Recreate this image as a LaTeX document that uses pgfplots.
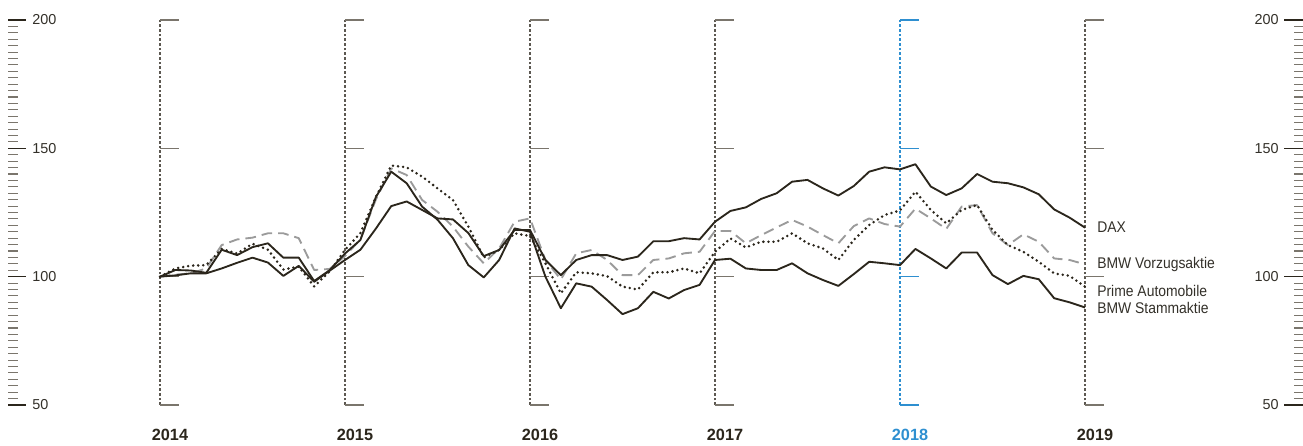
\documentclass[border=0pt]{standalone}
\usepackage{pgfplots}
\pgfplotsset{compat=1.18}
\usepackage{pgfplotstable}
\usepackage{fontspec}
\setmainfont{Liberation Sans}
\newfontfamily\condfont{Liberation Sans}[FakeStretch=0.9]
\definecolor{ink}{HTML}{2B261C}
\definecolor{vz}{HTML}{9B9B9B}
\definecolor{tk}{HTML}{7A756C}
\definecolor{yl}{HTML}{5C5851}
\definecolor{blu}{HTML}{2E8FD0}
\definecolor{txt}{HTML}{333029}

\pgfplotstableread{
m dax st pa vz
0 100 100 100 100
1 100.5 102.6 103.2 100.8
2 101.3 102.4 104.3 101.3
3 101.3 101.5 104.5 103.2
4 103.2 110.5 110.8 112.3
5 105.4 108.4 109.0 114.5
6 107.4 111.5 112.8 115.2
7 105.5 113.0 110.5 116.9
8 100.3 107.4 102.8 116.9
9 104.2 107.4 103.9 115.0
10 98.0 98.3 96.2 102.6
11 102.3 102.5 102.0 103.0
12 106.5 109.0 110.4 108.0
13 110.5 114.3 117.0 114.5
14 118.7 131.0 131.0 130.0
15 127.5 140.9 143.3 142.2
16 129.3 136.4 142.6 139.6
17 126.0 127.3 139.0 129.9
18 122.7 122.2 134.4 125.3
19 122.3 115.0 129.9 119.5
20 117.0 104.5 119.5 111.7
21 108.0 99.7 107.5 105.2
22 110.4 106.5 110.4 111.0
23 118.2 118.8 116.9 121.4
24 118.2 117.5 115.8 122.7
25 106.5 100.0 105.2 106.5
26 100.6 87.7 93.5 98.9
27 106.5 97.4 101.7 109.1
28 108.4 96.1 101.3 110.4
29 108.4 90.9 100.2 106.5
30 106.5 85.4 96.1 100.6
31 107.8 87.7 95.0 100.6
32 113.8 94.1 101.7 106.5
33 113.8 91.5 101.7 107.1
34 115.0 94.8 103.2 109.1
35 114.5 96.8 101.3 109.7
36 121.4 106.5 109.7 117.8
37 125.6 107.0 114.9 117.8
38 127.0 103.2 111.4 113.0
39 130.3 102.6 113.6 116.2
40 132.5 102.6 113.6 119.2
41 137.0 105.2 116.9 122.1
42 137.7 101.3 113.0 119.5
43 134.4 98.7 111.0 116.2
44 131.6 96.4 106.5 113.0
45 135.3 101.0 114.3 119.7
46 140.9 105.8 120.1 122.7
47 142.6 105.2 124.0 120.5
48 141.8 104.5 125.8 119.5
49 143.8 110.8 133.1 126.5
50 135.1 107.1 126.0 122.7
51 131.8 103.2 120.8 118.6
52 134.4 109.4 126.0 127.3
53 140.0 109.4 127.9 127.9
54 137.0 100.6 118.2 116.9
55 136.4 97.1 112.3 112.3
56 134.8 100.3 109.7 116.5
57 132.1 99.0 105.8 113.6
58 126.2 91.6 101.3 107.1
59 123.0 90.0 100.3 106.5
60 119.1 88.0 96.1 104.8
}\data

\begin{document}
\begin{tikzpicture}[x=0.75pt,y=0.75pt]
\path[use as bounding box] (0,0) rectangle (1303,446);
% year grid lines with ticks
\foreach \k in {0,1,2,3,5}{
  \pgfmathsetmacro\xx{160+185*\k}
  \draw[yl, line width=0.8pt, dash pattern=on 2pt off 1.5pt] (\xx,41) -- (\xx,426);
  \foreach \yy in {41,169.33,297.67,426}{
    \draw[tk, line width=0.8pt] (\xx,\yy) -- ++(19,0);
  }
}
\pgfmathsetmacro\xx{160+185*4}
\draw[blu, line width=0.8pt, dash pattern=on 2pt off 1.5pt] (\xx,41) -- (\xx,426);
\foreach \yy in {41,169.33,297.67,426}{
  \draw[blu, line width=0.8pt] (\xx,\yy) -- ++(19,0);
}
% year labels
\foreach \k/\yr in {0/2014,1/2015,2/2016,3/2017,5/2019}{
  \node[font=\fontsize{12.2}{14}\selectfont\bfseries, text=ink, inner sep=0] at (170+185*\k,10.8) {\yr};
}
\node[font=\fontsize{12.2}{14}\selectfont\bfseries, text=blu, inner sep=0] at (170+185*4,10.8) {2018};
% side scales
\foreach \i in {0,...,60}{
  \pgfmathsetmacro\yy{41+\i*6.416667}
  \draw[tk, line width=0.8pt] (8,\yy) -- (18,\yy);
  \draw[tk, line width=0.8pt] (1294,\yy) -- (1303,\yy);
}
\foreach \v/\yy in {50/41,100/169.33,150/297.67,200/426}{
  \draw[ink, line width=0.8pt] (8,\yy) -- (26,\yy);
  \draw[ink, line width=0.8pt] (1284,\yy) -- (1303,\yy);
  \node[anchor=west, inner sep=0, font=\fontsize{10.8}{12}\selectfont, text=txt] at (32,\yy) {\v};
  \node[anchor=east, inner sep=0, font=\fontsize{10.8}{12}\selectfont, text=txt] at (1279,\yy) {\v};
}
% legend labels
\begin{scope}[every node/.style={anchor=base west, inner sep=0, font=\condfont\fontsize{11.6}{13}\selectfont, text=txt}]
\node at (1097,213.7) {DAX};
\node at (1097,177.7) {BMW Vorzugsaktie};
\node at (1097,149.3) {Prime Automobile};
\node at (1097,132.7) {BMW Stammaktie};
\end{scope}

\begin{axis}[at={(120pt,30.75pt)}, anchor=south west, scale only axis,
  width=693.75pt, height=288.75pt, xmin=0, xmax=60, ymin=50, ymax=200,
  hide axis, clip=false]
\addplot[vz, line width=1.4pt, dash pattern=on 8pt off 4.5pt, line join=round] table[x=m,y=vz]{\data};
\addplot[ink, line width=2.1pt, dash pattern=on 0pt off 3.8pt, line cap=round, line join=round] table[x=m,y=pa]{\data};
\addplot[ink, line width=1.4pt, line join=round] table[x=m,y=st]{\data};
\addplot[ink, line width=1.4pt, line join=round] table[x=m,y=dax]{\data};
\end{axis}
\end{tikzpicture}
\end{document}
